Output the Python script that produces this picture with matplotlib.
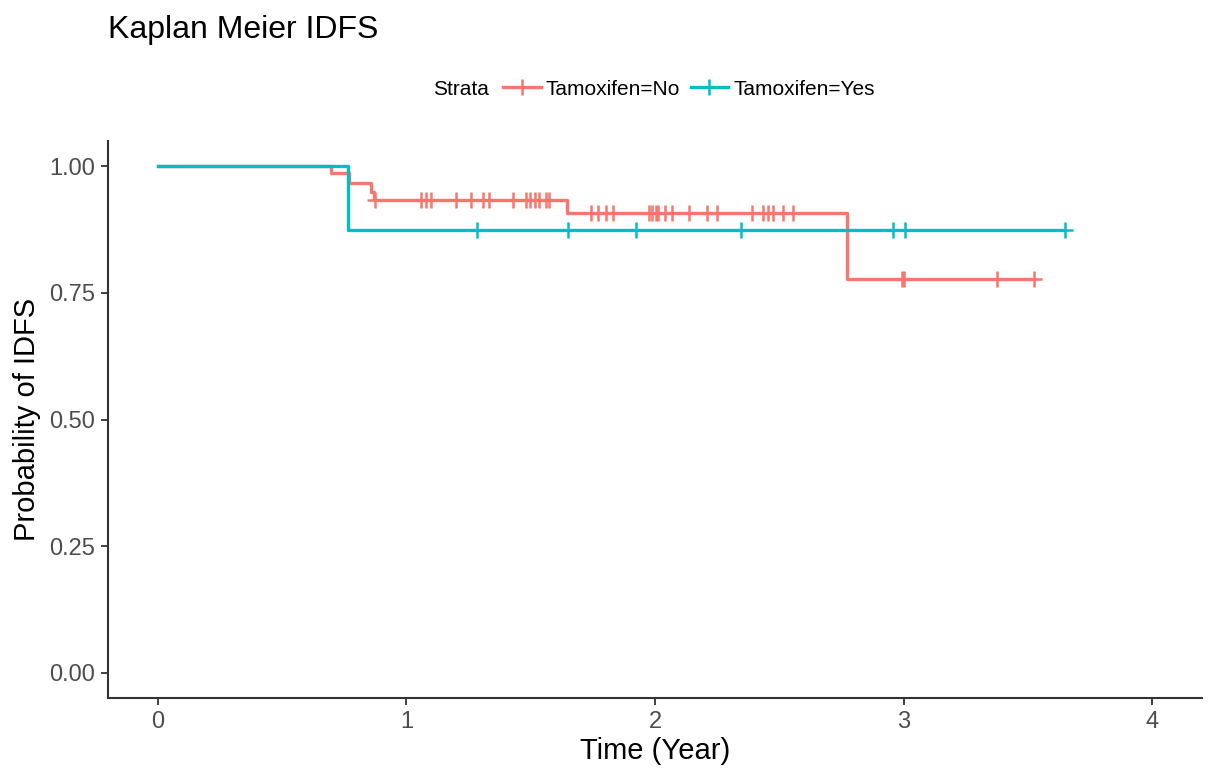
import numpy as np
import matplotlib
matplotlib.use("Agg")
import matplotlib.pyplot as plt
from matplotlib.lines import Line2D

plt.rcParams["font.family"] = ["Liberation Sans", "DejaVu Sans"]

# Kaplan-Meier steps (time in years, survival)
no_time = [0, 0.695, 0.768, 0.856, 0.868, 1.648, 2.774, 3.526]
no_surv = [1.0, 0.986, 0.967, 0.949, 0.933, 0.907, 0.777, 0.777]
yes_time = [0, 0.764, 3.650]
yes_surv = [1.0, 0.875, 0.875]

# censoring times
no_cens = [0.872, 1.057, 1.081, 1.098, 1.198, 1.262, 1.307, 1.331, 1.427,
           1.483, 1.499, 1.516, 1.532, 1.560, 1.572, 1.741, 1.769, 1.801,
           1.833, 1.974, 1.990, 2.006, 2.014, 2.042, 2.070, 2.135, 2.211,
           2.251, 2.392, 2.436, 2.456, 2.476, 2.513, 2.557, 2.995, 3.003,
           3.377, 3.526]
yes_cens = [1.286, 1.652, 1.922, 2.344, 2.959, 3.007, 3.650]

labels = ["Tamoxifen=No", "Tamoxifen=Yes"]
colors = ["#F8766D", "#00BFC4"]


def surv_at(times, surv, t):
    idx = np.searchsorted(times, t, side="right") - 1
    return np.array(surv)[idx]


fig = plt.figure(figsize=(12.08, 7.68), dpi=100)
ax = fig.add_axes([0.0894, 0.0911, 0.9056, 0.7253])

groups = [(no_time, no_surv, no_cens), (yes_time, yes_surv, yes_cens)]
for (t, s, c), col, lab in zip(groups, colors, labels):
    ax.step(t, s, where="post", color=col, lw=2.4, label=lab)
    ax.plot(c, surv_at(t, s, c), ls="none", marker="+", ms=12, mew=1.8,
            color=col)

ax.set_xlim(-0.2, 4.2)
ax.set_ylim(-0.05, 1.05)
ax.set_xticks([0, 1, 2, 3, 4])
ax.set_yticks([0, 0.25, 0.5, 0.75, 1.0])
ax.set_yticklabels(["0.00", "0.25", "0.50", "0.75", "1.00"])
for sp in ["top", "right"]:
    ax.spines[sp].set_visible(False)
for sp in ["left", "bottom"]:
    ax.spines[sp].set_linewidth(1.5)
    ax.spines[sp].set_color("#333333")
ax.tick_params(length=5, width=1.3, color="#333333", labelsize=17,
               labelcolor="#4D4D4D", pad=4)
ax.set_xlabel("Time (Year)", fontsize=21, labelpad=3)
ax.set_ylabel("Probability of IDFS", fontsize=21, labelpad=6)

fig.text(0.089, 0.961, "Kaplan Meier IDFS", fontsize=23, va="center")

handles = [Line2D([], [], color=c, lw=2.4, marker="+", ms=12, mew=1.8)
           for c in colors]
fig.text(0.3584, 0.884, "Strata", fontsize=15, va="center")
fig.legend(handles, labels, loc="center left", bbox_to_anchor=(0.4164, 0.884),
           ncol=2, frameon=False, fontsize=15, handlelength=1.8,
           handletextpad=0.25, columnspacing=0.5, borderaxespad=0,
           borderpad=0)

fig.savefig("out.png", dpi=100)
